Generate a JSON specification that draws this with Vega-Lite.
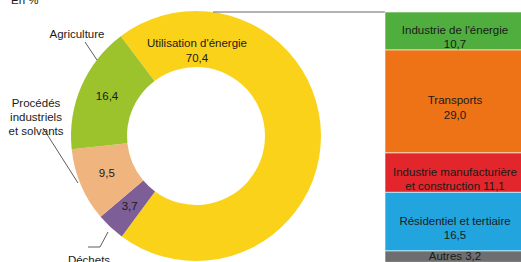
{
  "$schema": "https://vega.github.io/schema/vega-lite/v6.json",
  "width": 521,
  "height": 262,
  "autosize": "none",
  "padding": 0,
  "background": "white",
  "config": {"view": {"stroke": null}, "font": "Liberation Sans"},
  "datasets": {
    "emissions": [
      {"name": "Utilisation d'énergie", "value": 70.4},
      {"name": "Déchets", "value": 3.7},
      {"name": "Procédés industriels et solvants", "value": 9.5},
      {"name": "Agriculture", "value": 16.4}
    ],
    "energie": [
      {"secteur": "Utilisation d'énergie", "name": "Industrie de l'énergie", "value": 10.7},
      {"secteur": "Utilisation d'énergie", "name": "Transports", "value": 29.0},
      {"secteur": "Utilisation d'énergie", "name": "Industrie manufacturière et construction", "value": 11.1},
      {"secteur": "Utilisation d'énergie", "name": "Résidentiel et tertiaire", "value": 16.5},
      {"secteur": "Utilisation d'énergie", "name": "Autres", "value": 3.2}
    ]
  },
  "layer": [
    {
      "data": {"name": "emissions"},
      "transform": [
        {"window": [{"op": "row_number", "as": "rang"}]},
        {"stack": "value", "groupby": [], "sort": [{"field": "rang", "order": "ascending"}], "as": ["t0", "t1"]},
        {"calculate": "(datum.t0 + datum.t1) / 2", "as": "tmid"},
        {"calculate": "replace(format(datum.value, '.1f'), '.', ',')", "as": "valeur"}
      ],
      "layer": [
        {
          "mark": {"type": "arc", "x": 196, "y": 136, "outerRadius": 125, "innerRadius": 69},
          "encoding": {
            "theta": {"field": "t0", "type": "quantitative", "scale": {"domain": [0, 100], "range": [-0.6458, 5.6374]}},
            "theta2": {"field": "t1"},
            "color": {
              "field": "name", "type": "nominal", "legend": null,
              "scale": {
                "domain": ["Utilisation d'énergie", "Déchets", "Procédés industriels et solvants", "Agriculture", "Industrie de l'énergie", "Transports", "Industrie manufacturière et construction", "Résidentiel et tertiaire", "Autres"],
                "range": ["#FBD21A", "#7D5E97", "#F0B47E", "#9CC22C", "#4FAE3E", "#EE7316", "#E2262B", "#22A5DF", "#6E6E70"]
              }
            }
          }
        },
        {
          "transform": [{"filter": "datum.value < 50"}],
          "mark": {"type": "text", "x": 196, "y": 136, "radius": 97, "fontSize": 11.5, "color": "#1a1a1a"},
          "encoding": {
            "theta": {"field": "tmid", "type": "quantitative"},
            "text": {"field": "valeur"}
          }
        },
        {
          "transform": [{"filter": "datum.value > 50"}, {"calculate": "datum.name + '\\n' + datum.valeur", "as": "etiquette"}],
          "mark": {"type": "text", "x": 197, "y": 44, "fontSize": 11.5, "lineHeight": 15, "lineBreak": "\n", "color": "#1a1a1a"},
          "encoding": {"text": {"field": "etiquette"}}
        },
        {
          "transform": [{"filter": "datum.name == 'Agriculture'"}],
          "mark": {"type": "text", "x": 77, "y": 35, "fontSize": 11.5, "color": "#1a1a1a"},
          "encoding": {"text": {"field": "name"}}
        },
        {
          "transform": [{"filter": "datum.name == 'Procédés industriels et solvants'"}, {"calculate": "replace(datum.name, ' industriels ', '\\nindustriels\\n')", "as": "etiquette"}],
          "mark": {"type": "text", "x": 36, "y": 104, "fontSize": 11.5, "lineHeight": 14, "lineBreak": "\n", "color": "#1a1a1a"},
          "encoding": {"text": {"field": "etiquette"}}
        },
        {
          "transform": [{"filter": "datum.name == 'Déchets'"}],
          "mark": {"type": "text", "x": 89, "y": 263.5, "baseline": "alphabetic", "fontSize": 11.5, "color": "#1a1a1a"},
          "encoding": {"text": {"field": "name"}}
        }
      ]
    },
    {
      "data": {"values": [{}]},
      "layer": [
        {"mark": {"type": "rule", "color": "#333333", "strokeWidth": 0.8}, "encoding": {"x": {"value": 85}, "y": {"value": 42}, "x2": {"value": 97}, "y2": {"value": 60}}},
        {"mark": {"type": "rule", "color": "#333333", "strokeWidth": 0.8}, "encoding": {"x": {"value": 43}, "y": {"value": 128}, "x2": {"value": 78}, "y2": {"value": 183}}},
        {"mark": {"type": "rule", "color": "#333333", "strokeWidth": 0.8}, "encoding": {"x": {"value": 88}, "y": {"value": 247}, "x2": {"value": 100}, "y2": {"value": 247}}},
        {"mark": {"type": "rule", "color": "#333333", "strokeWidth": 0.8}, "encoding": {"x": {"value": 100}, "y": {"value": 247}, "x2": {"value": 108}, "y2": {"value": 232}}},
        {"mark": {"type": "rule", "color": "#666666", "strokeWidth": 1}, "encoding": {"x": {"value": 213}, "y": {"value": 12}, "x2": {"value": 385}, "y2": {"value": 12}}},
        {"mark": {"type": "text", "align": "left", "baseline": "alphabetic", "fontSize": 11.5, "color": "#1a1a1a", "text": "En %"}, "encoding": {"x": {"value": 11}, "y": {"value": 4}}}
      ]
    },
    {
      "data": {"name": "energie"},
      "transform": [
        {"window": [{"op": "row_number", "as": "rang"}]},
        {"stack": "value", "groupby": [], "sort": [{"field": "rang", "order": "ascending"}], "as": ["y0", "y1"]},
        {"calculate": "(datum.y0 + datum.y1) / 2", "as": "ymid"},
        {"calculate": "replace(format(datum.value, '.1f'), '.', ',')", "as": "valeur"},
        {"calculate": "datum.value < 5 ? datum.name + ' ' + datum.valeur : (indexof(datum.name, ' et construction') > 0 ? replace(datum.name, ' et construction', '\\net construction') + ' ' + datum.valeur : datum.name + '\\n' + datum.valeur)", "as": "etiquette"}
      ],
      "layer": [
        {
          "mark": {"type": "rect", "stroke": "white", "strokeWidth": 0.6},
          "encoding": {
            "x": {"field": "secteur", "type": "nominal", "axis": null, "scale": {"range": [385, 525], "paddingInner": 0, "paddingOuter": 0}},
            "y": {"field": "y0", "type": "quantitative", "axis": null, "scale": {"domain": [0, 70.5], "range": [12, 262.3], "nice": false, "zero": false}},
            "y2": {"field": "y1"},
            "color": {
              "field": "name", "type": "nominal", "legend": null,
              "scale": {
                "domain": ["Utilisation d'énergie", "Déchets", "Procédés industriels et solvants", "Agriculture", "Industrie de l'énergie", "Transports", "Industrie manufacturière et construction", "Résidentiel et tertiaire", "Autres"],
                "range": ["#FBD21A", "#7D5E97", "#F0B47E", "#9CC22C", "#4FAE3E", "#EE7316", "#E2262B", "#22A5DF", "#6E6E70"]
              }
            }
          }
        },
        {
          "mark": {"type": "text", "fontSize": 11.5, "lineHeight": 14.5, "lineBreak": "\n", "color": "#1a1a1a"},
          "encoding": {
            "x": {"field": "secteur", "type": "nominal"},
            "y": {"field": "ymid", "type": "quantitative"},
            "text": {"field": "etiquette"}
          }
        }
      ]
    }
  ]
}
